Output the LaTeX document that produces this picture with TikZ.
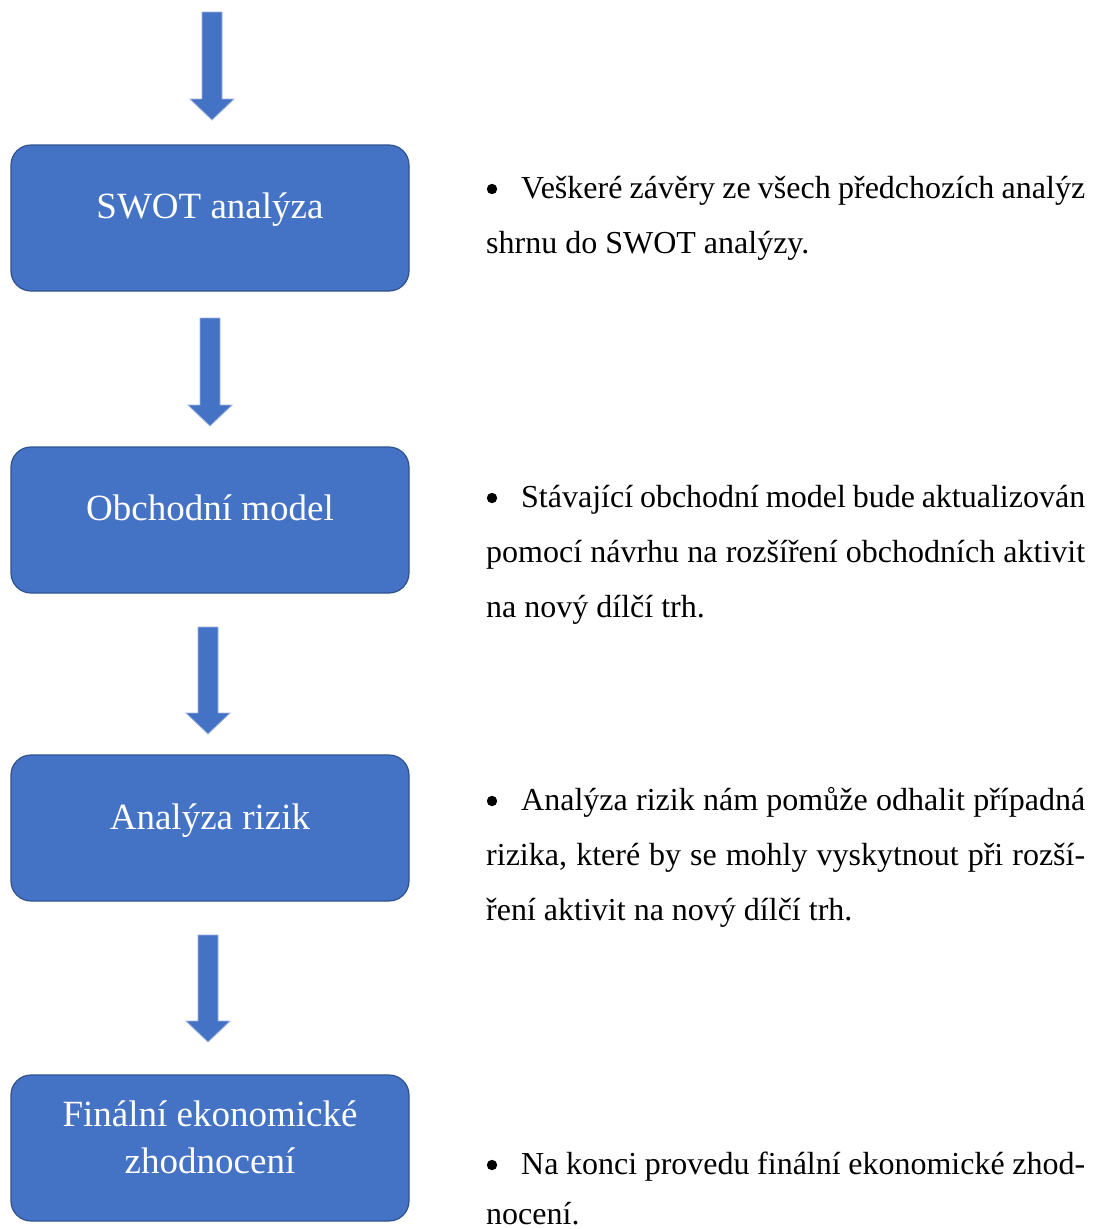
\documentclass[tikz,border=0pt]{standalone}
\usepackage{fontspec}
\setmainfont{Liberation Serif}
\definecolor{boxblue}{HTML}{4472C4}
\definecolor{boxedge}{HTML}{2F528F}
\definecolor{arredge}{HTML}{9DB3E0}
\newcommand\downblockarrow[3]{%
  \draw[blockarrow] (#1-10,#2) -- (#1+10,#2) -- (#1+10,#3-21) -- (#1+22,#3-21)
    -- (#1,#3) -- (#1-22,#3-21) -- (#1-10,#3-21) -- cycle;}
\newcommand\bul{\hbox to 35pt{\hfil}}
\newcommand\bulletdot[1]{\fill ([shift={(6,-9)}]#1.base west) circle (5.2pt);}
\begin{document}
\begin{tikzpicture}[x=1pt,y=-1pt,
  stepbox/.style={draw=boxedge, line width=1.2pt, fill=boxblue, rounded corners=20pt,
    minimum width=398pt, minimum height=146pt, inner sep=0pt},
  boxtext/.style={text=white, font=\fontsize{37}{47}\selectfont, anchor=base, inner sep=0pt},
  bodytext/.style={font=\fontsize{32}{55}\selectfont, anchor=base west, inner sep=0pt},
  blockarrow/.style={fill=boxblue, draw=arredge, line width=0.8pt}]
\useasboundingbox[fill=white] (0,0) rectangle (1099,1229);

% arrows
\downblockarrow{212}{12}{120}
\downblockarrow{210}{318}{426}
\downblockarrow{208}{627}{734}
\downblockarrow{208}{935}{1042}

% boxes
\node[stepbox] (b1) at (210,218) {};
\node[stepbox] (b2) at (210,520) {};
\node[stepbox] (b3) at (210,828) {};
\node[stepbox] (b4) at (210,1148) {};

\node[boxtext] (l1) at (210,218) {SWOT analýza};
\node[boxtext] (l2) at (210,520) {Obchodní model};
\node[boxtext] (l3) at (210,829) {Analýza rizik};
\node[boxtext] (l4a) at (210,1126) {Finální ekonomické};
\node[boxtext] (l4b) at (210,1173) {zhodnocení};

% descriptions
\node[bodytext] (t1a) at (486,198) {\makebox[599pt][s]{\bul Veškeré závěry ze všech předchozích analýz}};
\node[bodytext] (t1b) at (486,253) {shrnu do SWOT analýzy.};

\node[bodytext] (t2a) at (486,507) {\makebox[599pt][s]{\bul Stávající obchodní model bude aktualizován}};
\node[bodytext] (t2b) at (486,562) {\makebox[599pt][s]{pomocí návrhu na rozšíření obchodních aktivit}};
\node[bodytext] (t2c) at (486,617) {na nový dílčí trh.};

\node[bodytext] (t3a) at (486,810) {\makebox[599pt][s]{\bul Analýza rizik nám pomůže odhalit případná}};
\node[bodytext] (t3b) at (486,865) {\makebox[599pt][s]{rizika, které by se mohly vyskytnout při rozší-}};
\node[bodytext] (t3c) at (486,920) {ření aktivit na nový dílčí trh.};

\node[bodytext] (t4a) at (486,1174) {\makebox[599pt][s]{\bul Na konci provedu finální ekonomické zhod-}};
\node[bodytext] (t4b) at (486,1224) {nocení.};

\bulletdot{t1a}
\bulletdot{t2a}
\bulletdot{t3a}
\bulletdot{t4a}
\end{tikzpicture}
\end{document}
